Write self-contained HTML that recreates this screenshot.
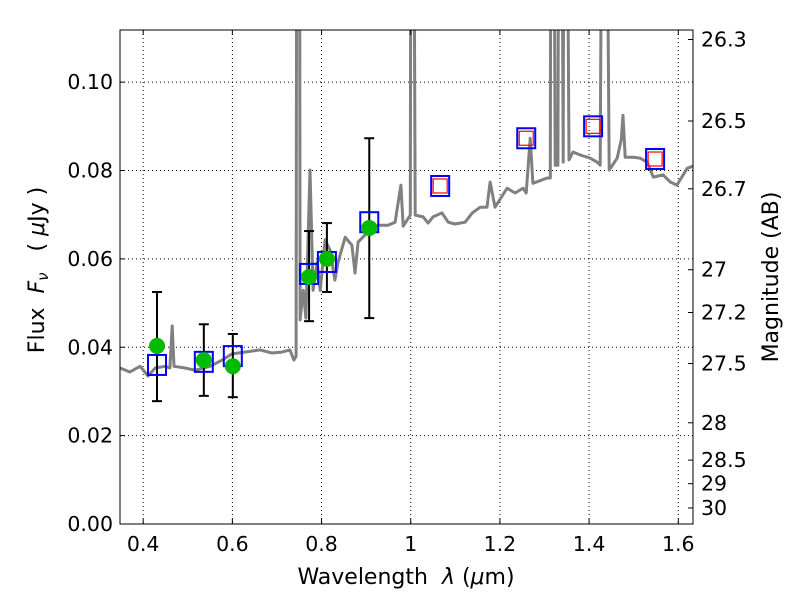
<!DOCTYPE html>
<html><head><meta charset="utf-8"><style>
body{margin:0;background:#fff}
svg text{font-family:"DejaVu Sans","Liberation Sans",sans-serif;fill:#000;white-space:pre}
</style></head><body>
<svg id="chart" width="800" height="600" xmlns="http://www.w3.org/2000/svg">
<defs><clipPath id="clip"><rect x="120" y="30" width="573" height="494"/></clipPath></defs>
<rect width="800" height="600" fill="#fff"/>
<g id="grid"></g>
<g id="spec" clip-path="url(#clip)"></g>
<g id="marks" clip-path="url(#clip)"></g>
<rect x="120" y="30" width="573" height="494" fill="none" stroke="#000" stroke-width="1"/>
<g id="axes"></g>
<text x="406" y="584" font-size="22" text-anchor="middle">Wavelength  <tspan font-style="italic">λ</tspan> (<tspan font-style="italic">μ</tspan>m)</text>
<text transform="translate(44,270) rotate(-90)" font-size="22" text-anchor="middle">Flux  <tspan font-style="italic">F</tspan><tspan font-style="italic" font-size="15" dy="4">ν</tspan><tspan dy="-4">   ( </tspan><tspan font-style="italic">μ</tspan>Jy )</text>
<text transform="translate(778,277) rotate(-90)" font-size="22" text-anchor="middle">Magnitude (AB)</text>
</svg>
<script>
const specLam=[0.348,0.370,0.393,0.411,0.427,0.449,0.460,0.465,0.469,0.494,0.516,0.550,0.577,0.599,0.628,0.662,0.689,0.711,0.729,0.738,0.743,0.745,0.750,0.752,0.759,0.765,0.774,0.781,0.790,0.797,0.808,0.819,0.830,0.837,0.853,0.868,0.875,0.882,0.904,0.927,0.949,0.965,0.978,0.983,0.999,1.001,1.005,1.010,1.028,1.039,1.050,1.070,1.084,1.099,1.122,1.138,1.156,1.171,1.178,1.189,1.216,1.234,1.252,1.259,1.268,1.274,1.306,1.313,1.315,1.319,1.324,1.330,1.333,1.337,1.342,1.344,1.348,1.355,1.364,1.380,1.402,1.418,1.425,1.431,1.436,1.445,1.463,1.472,1.476,1.481,1.499,1.514,1.530,1.544,1.566,1.582,1.597,1.620,1.633];
const specFlux=[0.0353,0.0344,0.0357,0.0335,0.0353,0.0357,0.0353,0.0448,0.0357,0.0353,0.0348,0.0357,0.0371,0.0385,0.0389,0.0394,0.0387,0.0389,0.0394,0.0371,0.038,0.2,0.2,0.0462,0.0529,0.0466,0.0801,0.0529,0.0593,0.0529,0.0643,0.062,0.0552,0.0593,0.0649,0.0631,0.0568,0.0638,0.0661,0.0676,0.0676,0.0683,0.0767,0.0674,0.0699,0.2,0.2,0.0699,0.0695,0.0681,0.0695,0.0704,0.0683,0.0679,0.0683,0.0704,0.0717,0.0717,0.0774,0.0717,0.076,0.0749,0.076,0.0749,0.0873,0.0771,0.0783,0.0783,0.2,0.2,0.0812,0.0812,0.2,0.2,0.0819,0.2,0.2,0.0824,0.0842,0.0835,0.0828,0.0819,0.0812,0.2,0.2,0.0801,0.0828,0.0869,0.0925,0.083,0.083,0.0828,0.0819,0.0785,0.079,0.0774,0.0767,0.0805,0.081];
const modelLam=[0.431,0.536,0.601,0.772,0.812,0.907,1.066,1.259,1.409,1.548];
const modelFlux=[0.0360,0.0367,0.0380,0.0566,0.0593,0.0683,0.0765,0.0873,0.0900,0.0826];
const obsLam=[0.431,0.536,0.601,0.772,0.812,0.907];
const obsFlux=[0.0403,0.0371,0.0357,0.0559,0.0600,0.0670];
const errLo=[0.0278,0.0290,0.0287,0.0459,0.0525,0.0466];
const errHi=[0.0525,0.0452,0.0430,0.0663,0.0681,0.0873];
const upperLam=[1.066,1.259,1.409,1.548];
const upperFlux=[0.0765,0.0873,0.0900,0.0826];
const xTicks=[0.4,0.6,0.8,1.0,1.2,1.4,1.6];
const xTickLabels=["0.4","0.6","0.8","1","1.2","1.4","1.6"];
const yTicks=[0,0.02,0.04,0.06,0.08,0.10];
const yTickLabels=["0.00","0.02","0.04","0.06","0.08","0.10"];
const magTicks=[26.3,26.5,26.7,27,27.2,27.5,28,28.5,29,30];
const magLabels=["26.3","26.5","26.7","27","27.2","27.5","28","28.5","29","30"];

const X0=120,X1=693,Y0=524,Y1=30,XMIN=0.348,XMAX=1.633,YMIN=0,YMAX=0.1118;
const sx=v=>X0+(v-XMIN)/(XMAX-XMIN)*(X1-X0);
const sy=v=>Y0-(v-YMIN)/(YMAX-YMIN)*(Y0-Y1);
const NS="http://www.w3.org/2000/svg";
function mk(tag,attrs,parent){const e=document.createElementNS(NS,tag);for(const k in attrs)e.setAttribute(k,attrs[k]);parent.appendChild(e);return e;}
const grid=document.getElementById('grid'),axes=document.getElementById('axes'),spec=document.getElementById('spec'),marks=document.getElementById('marks');

xTicks.forEach((t,i)=>{const x=sx(t);
 let g=mk('line',{x1:x,x2:x,y1:Y1,y2:Y0,stroke:'#000','stroke-dasharray':'1,3','stroke-width':1},grid);
 
 mk('line',{x1:x,x2:x,y1:Y0,y2:Y0-5,stroke:'#000'},axes);
 mk('line',{x1:x,x2:x,y1:Y1,y2:Y1+5,stroke:'#000'},axes);
 let tx=mk('text',{x:x,y:Y0+27,'font-size':20.5,'text-anchor':'middle'},axes);tx.textContent=xTickLabels[i];
 });
yTicks.forEach((t,i)=>{const y=sy(t);
 let g=mk('line',{x1:X0,x2:X1,y1:y,y2:y,stroke:'#000','stroke-dasharray':'1,3','stroke-width':1},grid);
 
 mk('line',{x1:X0,x2:X0+5,y1:y,y2:y,stroke:'#000'},axes);
 let tx=mk('text',{x:X0-7,y:y+7,'font-size':20.5,'text-anchor':'end'},axes);tx.textContent=yTickLabels[i];
 });
magTicks.forEach((m,i)=>{const f=Math.pow(10,(23.9-m)/2.5);const y=sy(f);
 mk('line',{x1:X1,x2:X1-5,y1:y,y2:y,stroke:'#000'},axes);
 let tx=mk('text',{x:X1+8,y:y+7,'font-size':20.5},axes);tx.textContent=magLabels[i];
 });

let d=specLam.map((l,i)=>(i?'L':'M')+sx(l).toFixed(1)+','+sy(specFlux[i]).toFixed(1)).join('');
let sp=mk('path',{d:d,fill:'none',stroke:'#808080','stroke-width':3,'stroke-linejoin':'round'},spec);


obsLam.forEach((l,i)=>{const x=sx(l);
 let e=mk('g',{},marks);
 mk('line',{x1:x,x2:x,y1:sy(errLo[i]),y2:sy(errHi[i]),stroke:'#000','stroke-width':2},e);
 mk('line',{x1:x-5,x2:x+5,y1:sy(errLo[i]),y2:sy(errLo[i]),stroke:'#000','stroke-width':2},e);
 mk('line',{x1:x-5,x2:x+5,y1:sy(errHi[i]),y2:sy(errHi[i]),stroke:'#000','stroke-width':2},e);});
modelLam.forEach((l,i)=>{let r=mk('rect',{x:sx(l)-9,y:sy(modelFlux[i])-10,width:18,height:20,fill:'none',stroke:'#0000ff','stroke-width':2},marks);
 });
upperLam.forEach((l,i)=>{let r=mk('rect',{x:sx(l)-7,y:sy(upperFlux[i])-7,width:14,height:14,fill:'none',stroke:'#ff0000','stroke-width':1.2},marks);
 });
obsLam.forEach((l,i)=>{let c=mk('circle',{cx:sx(l),cy:sy(obsFlux[i]),r:8,fill:'#00bb00'},marks);
 });
</script>
</body></html>
